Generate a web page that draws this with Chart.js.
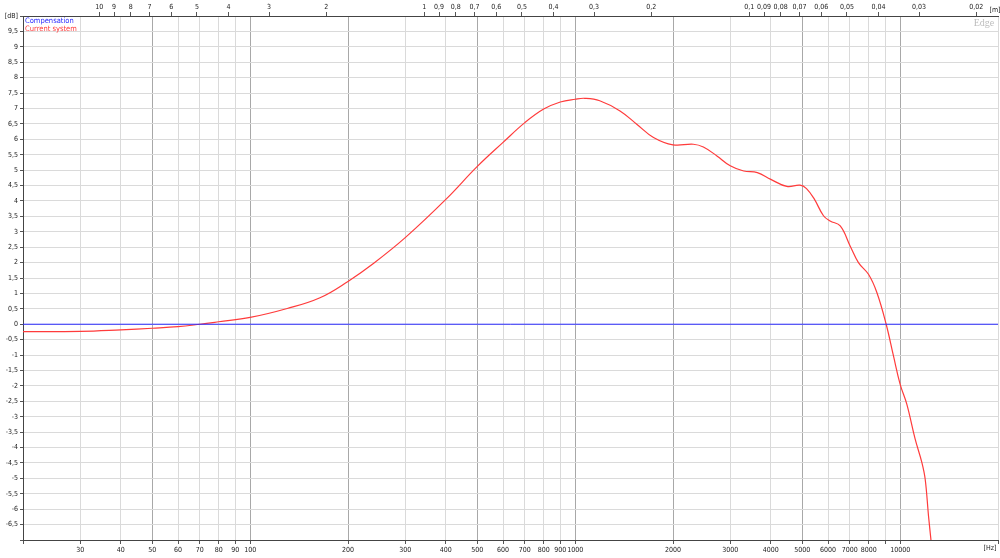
<!DOCTYPE html>
<html><head><meta charset="utf-8">
<script src="https://cdn.jsdelivr.net/npm/chart.js@4.4.1/dist/chart.umd.min.js"></script>
<style>html,body{margin:0;padding:0;background:#fff;overflow:hidden}#wrap{width:1000px;height:558px}</style>
</head><body><div id="wrap"><canvas id="c" width="1000" height="558"></canvas></div>
<script>
// ---- data ----
const freqHz = [20,30,40,50,60,70,80,100,130,164,200,240,300,400,500,600,700,800,900,1000,1070,1190,1374,1547,1742,2000,2310,2480,2730,3000,3300,3635,4000,4480,4920,5150,5450,5808,6088,6540,7015,7441,7990,8478,9056,9537,10000,10486,11122,11664,11940,12224,12433,12600];
const currentDb = [-0.24,-0.23,-0.18,-0.13,-0.08,0.0,0.08,0.22,0.51,0.86,1.39,1.98,2.81,4.05,5.12,5.9,6.54,6.98,7.21,7.3,7.33,7.25,6.92,6.49,6.06,5.82,5.84,5.75,5.46,5.14,4.97,4.92,4.7,4.47,4.51,4.4,4.05,3.52,3.35,3.19,2.54,2.0,1.62,1.03,0.0,-1.03,-1.95,-2.6,-3.73,-4.49,-5.03,-6.22,-6.98,-7.6];
const compFreqHz = [20, 20000];
const compDb = [0, 0];
const seriesNames = ['Compensation', 'Current system'];

const freqTicks = [20,30,40,50,60,70,80,90,100,200,300,400,500,600,700,800,900,1000,2000,3000,4000,5000,6000,7000,8000,9000,10000,20000];
const freqTickLabels = ['','30','40','50','60','70','80','90','100','200','300','400','500','600','700','800','900','1000','2000','3000','4000','5000','6000','7000','8000','','10000',''];
const majorFreq = [50,100,200,500,1000,2000,5000,10000];
const wavelengthM = [10,9,8,7,6,5,4,3,2,1,0.9,0.8,0.7,0.6,0.5,0.4,0.3,0.2,0.1,0.09,0.08,0.07,0.06,0.05,0.04,0.03,0.02];
const wavelengthLabels = ['10','9','8','7','6','5','4','3','2','1','0,9','0,8','0,7','0,6','0,5','0,4','0,3','0,2','0,1','0,09','0,08','0,07','0,06','0,05','0,04','0,03','0,02'];
const speedOfSound = 343;
const dbMin = -7, dbMax = 10, dbStep = 0.5;

const FAMILY = '"Liberation Sans Narrow", "DejaVu Sans Condensed", "Liberation Sans", Arial, sans-serif';
const FONT = {family: FAMILY, size: 7};
const seriesColors = ['#2b2bff', '#ff3b3b'];

const textPlugin = {
  id: 'texts',
  afterDraw(chart) {
    const ctx = chart.ctx, a = chart.chartArea;
    ctx.save();
    ctx.font = '7.5px ' + FAMILY;
    ctx.textBaseline = 'middle';
    ctx.textAlign = 'left';
    chart.data.datasets.forEach((ds, i) => {
      ctx.fillStyle = ds.borderColor;
      ctx.fillText(ds.label, a.left + 2, a.top + 5 + i * 8.5);
    });
    ctx.font = '7px ' + FAMILY;
    ctx.fillStyle = '#222';
    ctx.textAlign = 'center';
    ctx.fillText('[Hz]', 990, 548);
    ctx.fillText('[m]', 995, 10);
    ctx.font = '10px "Liberation Serif", serif';
    ctx.fillStyle = '#bdbdbd';
    ctx.fillText('Edge', 984, 23);
    ctx.restore();
  }
};

new Chart(document.getElementById('c'), {
  type: 'line',
  data: {
    datasets: [
      {label: seriesNames[0], data: compFreqHz.map((f, i) => ({x: f, y: compDb[i]})), borderColor: seriesColors[0], borderWidth: 1, pointRadius: 0, xAxisID: 'x', yAxisID: 'y'},
      {label: seriesNames[1], data: freqHz.map((f, i) => ({x: f, y: currentDb[i]})), borderColor: seriesColors[1], borderWidth: 1.2, pointRadius: 0, tension: 0.4, xAxisID: 'x', yAxisID: 'y'}
    ]
  },
  options: {
    responsive: false,
    animation: false,
    layout: {padding: {left: 0, right: 2, top: 0, bottom: 0}},
    plugins: {legend: {display: false}, tooltip: {enabled: false}},
    scales: {
      x: {
        type: 'logarithmic', position: 'bottom', min: 20, max: 20000,
        afterBuildTicks: s => { s.ticks = freqTicks.map(v => ({value: v})); },
        afterFit: s => { s.height = 18; },
        ticks: {autoSkip: false, maxRotation: 0, minRotation: 0, padding: 2, font: FONT, color: '#222',
          callback: (v, i) => freqTickLabels[i]},
        grid: {
          color: c => (c.tick && majorFreq.includes(c.tick.value)) ? '#a8a8a8' : '#dadada',
          tickColor: '#555', tickLength: 4, lineWidth: 1
        },
        border: {color: '#444', width: 1}
      },
      xTop: {
        type: 'logarithmic', position: 'top', min: 20, max: 20000,
        afterBuildTicks: s => { s.ticks = wavelengthM.map(l => ({value: speedOfSound / l})); },
        afterFit: s => { s.height = 16; },
        ticks: {autoSkip: false, maxRotation: 0, minRotation: 0, padding: 1, font: FONT, color: '#222',
          callback: (v, i) => wavelengthLabels[i]},
        grid: {drawOnChartArea: false, tickColor: '#555', tickLength: 4},
        border: {color: '#444', width: 1}
      },
      y: {
        type: 'linear', position: 'left', min: dbMin, max: dbMax,
        afterFit: s => { s.width = 23; },
        ticks: {stepSize: dbStep, autoSkip: false, padding: 2, font: FONT, color: '#222',
          callback: v => v === dbMax ? '[dB]' : (v === dbMin ? '' : String(v).replace('.', ','))},
        grid: {color: '#dadada', tickColor: '#555', tickLength: 3, lineWidth: 1},
        border: {color: '#444', width: 1}
      }
    }
  },
  plugins: [textPlugin]
});
</script>
</body></html>
